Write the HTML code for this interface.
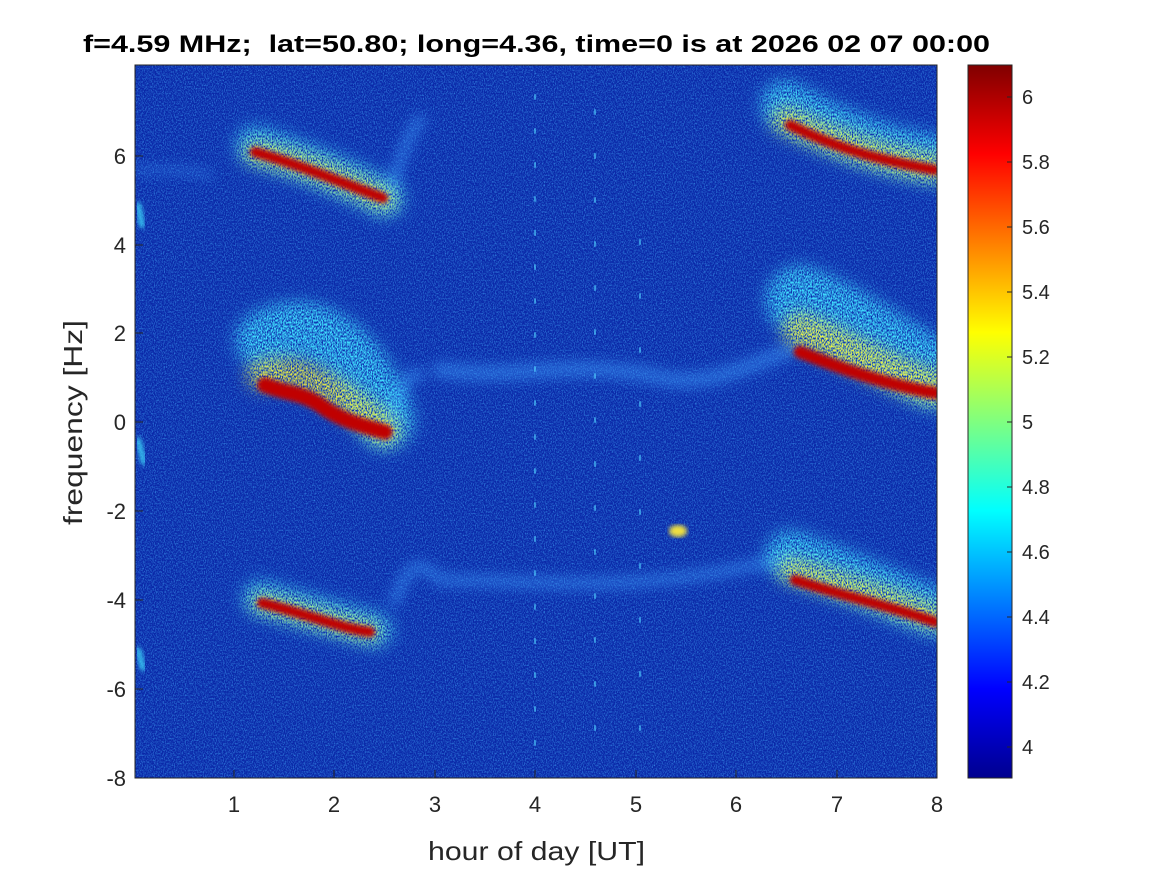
<!DOCTYPE html>
<html><head><meta charset="utf-8"><style>
html,body{margin:0;padding:0;background:#fff;}
svg text{font-family:"Liberation Sans",Arial,sans-serif;}
</style></head><body>
<svg width="1167" height="875" viewBox="0 0 1167 875" xmlns="http://www.w3.org/2000/svg">
<defs>
<filter id="noise" x="0" y="0" width="100%" height="100%">
<feTurbulence type="fractalNoise" baseFrequency="0.9 0.6" numOctaves="2" seed="3" result="t"/>
<feColorMatrix in="t" type="matrix" values="0 0 0 0 0.05  0 0 0 0 0.35  0 0 0 0 0.9  0 0 0 1.6 -0.65" result="n"/>
<feComposite in="n" in2="SourceGraphic" operator="in"/>
</filter>
<filter id="speck" x="-20%" y="-20%" width="140%" height="140%">
<feGaussianBlur in="SourceGraphic" stdDeviation="8" result="b"/>
<feTurbulence type="fractalNoise" baseFrequency="0.8 0.5" numOctaves="2" seed="7" result="t"/>
<feColorMatrix in="t" type="matrix" values="0 0 0 0 0  0 0 0 0 0  0 0 0 0 0  0 0 0 3 -1.0" result="m"/>
<feComposite in="b" in2="m" operator="in"/>
</filter>
<filter id="b6"><feGaussianBlur stdDeviation="6"/></filter>
<filter id="b3"><feGaussianBlur stdDeviation="2.5"/></filter>
<linearGradient id="jet" x1="0" y1="1" x2="0" y2="0">
<stop offset="0" stop-color="#00008f"/><stop offset="0.125" stop-color="#0000ff"/>
<stop offset="0.375" stop-color="#00ffff"/><stop offset="0.625" stop-color="#ffff00"/>
<stop offset="0.875" stop-color="#ff0000"/><stop offset="1" stop-color="#800000"/>
</linearGradient>
<clipPath id="pc"><rect x="135" y="65" width="802" height="713"/></clipPath>
</defs>
<g clip-path="url(#pc)">
<rect x="135" y="65" width="802" height="713" fill="#0a28a8"/>
<rect x="135" y="65" width="802" height="713" fill="#3080ff" filter="url(#noise)"/>
<g fill="none" stroke-linecap="round">
<g stroke="#3fa0ff" opacity="0.45" filter="url(#b6)">
<path d="M440,370 C520,380 560,360 650,375 C700,390 740,370 790,350" stroke-width="16"/>
<path d="M385,440 C395,400 405,370 420,375" stroke-width="12"/>
<path d="M385,205 C400,160 410,130 420,120" stroke-width="12"/>
<path d="M395,600 C410,560 420,560 440,580 C520,580 600,590 700,575 C740,570 770,560 790,560" stroke-width="12"/>
<path d="M135,170 C170,170 190,170 210,175" stroke-width="6"/>
</g>
<g stroke="#40e0ff" filter="url(#speck)">
<path d="M255,145 C300,160 340,175 385,198" stroke-width="40"/>
<path d="M265,340 C300,320 350,330 385,420" stroke-width="60"/>
<path d="M260,598 C300,610 340,620 375,630" stroke-width="36"/>
<path d="M785,105 C840,135 880,150 935,160" stroke-width="50"/>
<path d="M800,300 C850,320 890,350 935,375" stroke-width="70"/>
<path d="M790,555 C850,575 890,595 935,612" stroke-width="50"/>
</g>
<g stroke="#f0f040" filter="url(#speck)">
<path d="M255,152 C300,162 340,178 385,200" stroke-width="22"/>
<path d="M262,375 C300,365 340,395 385,430" stroke-width="30"/>
<path d="M260,602 C300,612 340,625 372,632" stroke-width="18"/>
<path d="M785,120 C840,145 880,158 935,168" stroke-width="26"/>
<path d="M800,330 C850,350 890,375 935,388" stroke-width="34"/>
<path d="M790,570 C850,588 890,600 935,618" stroke-width="24"/>
</g>
<g stroke="#c00000" filter="url(#b3)">
<path d="M255,152 C300,165 340,182 383,198" stroke-width="10"/>
<path d="M265,385 C290,395 300,392 320,405 C340,420 360,425 385,432" stroke-width="15"/>
<path d="M262,603 C300,612 340,628 370,632" stroke-width="10"/>
<path d="M790,125 C840,150 880,160 935,170" stroke-width="10"/>
<path d="M800,352 C850,372 890,385 935,393" stroke-width="12"/>
<path d="M795,580 C850,598 890,606 935,622" stroke-width="10"/>
</g>
<g stroke="#40e0ff" opacity="0.8" filter="url(#b3)">
<path d="M138,205 L142,225" stroke-width="6"/>
<path d="M138,440 L144,462" stroke-width="6"/>
<path d="M138,650 L143,668" stroke-width="6"/>
</g>
<ellipse cx="678" cy="531" rx="9" ry="6" fill="#f0e040" filter="url(#b3)"/>
<g stroke="#50d0ff" stroke-width="2" opacity="0.6">
<path d="M535,95 V770" stroke-dasharray="4 30"/>
<path d="M595,110 V770" stroke-dasharray="4 40"/>
<path d="M640,240 V770" stroke-dasharray="4 50"/>
</g>
</g>
</g>
<rect x="135" y="65" width="802" height="713" fill="none" stroke="#262626" stroke-width="1"/>
<g stroke="#262626" stroke-width="1">
<path d="M234,778v-8M334,778v-8M435,778v-8M535,778v-8M636,778v-8M736,778v-8M837,778v-8M937,778v-8"/>
<path d="M135,778h8M135,689h8M135,600h8M135,511h8M135,422h8M135,333h8M135,245h8M135,156h8"/>
</g>
<g font-size="22" fill="#262626" text-anchor="middle">
<text x="234" y="812">1</text><text x="334" y="812">2</text><text x="435" y="812">3</text><text x="535" y="812">4</text>
<text x="636" y="812">5</text><text x="736" y="812">6</text><text x="837" y="812">7</text><text x="937" y="812">8</text>
</g>
<g font-size="22" fill="#262626" text-anchor="end">
<text x="126" y="786">-8</text><text x="126" y="697">-6</text><text x="126" y="608">-4</text><text x="126" y="519">-2</text>
<text x="126" y="430">0</text><text x="126" y="341">2</text><text x="126" y="253">4</text><text x="126" y="164">6</text>
</g>
<text x="428" y="860" font-size="26" fill="#262626" textLength="217" lengthAdjust="spacingAndGlyphs">hour of day [UT]</text>
<text transform="translate(82,525) rotate(-90)" font-size="26" fill="#262626" textLength="205" lengthAdjust="spacingAndGlyphs">frequency [Hz]</text>
<text x="83" y="52" font-size="24" font-weight="bold" fill="#000" xml:space="preserve" textLength="907" lengthAdjust="spacingAndGlyphs">f=4.59 MHz;  lat=50.80; long=4.36, time=0 is at 2026 02 07 00:00</text>
<rect x="968" y="65" width="44" height="713" fill="url(#jet)" stroke="#262626" stroke-width="1"/>
<g stroke="#262626"><path d="M1012,97h-5M1012,162h-5M1012,227h-5M1012,292h-5M1012,357h-5M1012,422h-5M1012,487h-5M1012,552h-5M1012,617h-5M1012,682h-5M1012,747h-5"/></g>
<g font-size="20" fill="#262626">
<text x="1022" y="104">6</text><text x="1022" y="169">5.8</text><text x="1022" y="234">5.6</text><text x="1022" y="299">5.4</text>
<text x="1022" y="364">5.2</text><text x="1022" y="429">5</text><text x="1022" y="494">4.8</text><text x="1022" y="559">4.6</text>
<text x="1022" y="624">4.4</text><text x="1022" y="689">4.2</text><text x="1022" y="754">4</text>
</g>
</svg>
</body></html>
